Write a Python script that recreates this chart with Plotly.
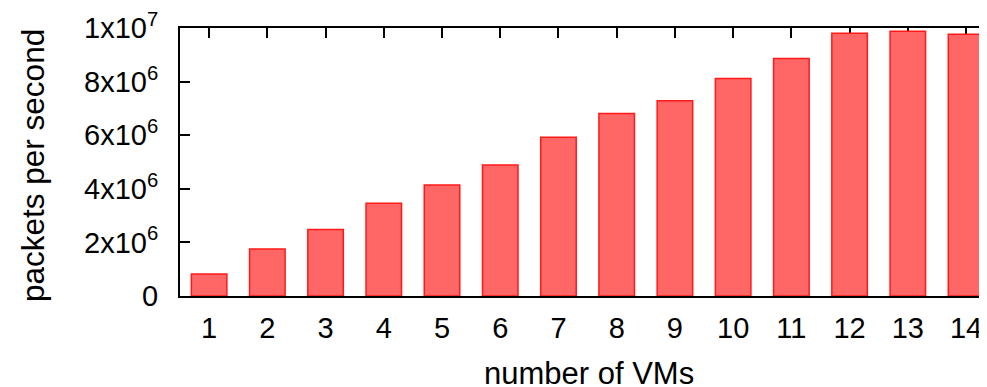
import plotly.graph_objects as go

vms = list(range(1, 15))
pps = [0.82e6, 1.75e6, 2.48e6, 3.46e6, 4.14e6, 4.89e6, 5.92e6, 6.81e6,
       7.29e6, 8.12e6, 8.86e6, 9.80e6, 9.88e6, 9.77e6]
ytick_vals = [0, 2e6, 4e6, 6e6, 8e6, 1e7]
ytick_text = ["0", "2x10<sup>6</sup>", "4x10<sup>6</sup>", "6x10<sup>6</sup>",
              "8x10<sup>6</sup>", "1x10<sup>7</sup>"]

FONT = "Liberation Sans, Arial, Helvetica, sans-serif"

# page body has an 8px margin; figure is sized to fill the rest of the window
OFF = 8
W, H = 987 - OFF, 387 - OFF
L, T, B_PIX = 180 - OFF, 28 - OFF, 296 - OFF

fig = go.Figure()
fig.add_trace(go.Bar(
    x=vms, y=pps, width=0.61,
    marker=dict(color="#FF6666", line=dict(color="#FF1A1A", width=1.5)),
))

fig.update_layout(
    width=W, height=H,
    margin=dict(l=L, r=0, t=T, b=H - B_PIX),
    paper_bgcolor="white", plot_bgcolor="white",
    showlegend=False,
    font=dict(family=FONT, size=29, color="black"),
    xaxis=dict(
        range=[0.5, 14.36], tickvals=vms, ticktext=[str(v) for v in vms],
        ticks="inside", ticklen=10, tickwidth=1.5, tickcolor="black",
        showline=True, linecolor="black", linewidth=2, mirror="ticks",
        showgrid=False, zeroline=False, layer="below traces",
        ticklabelstandoff=5, ticklabeloverflow="allow",
        tickfont=dict(size=29),
    ),
    yaxis=dict(
        range=[0, 1e7], tickvals=ytick_vals, ticktext=ytick_text,
        ticks="inside", ticklen=10, tickwidth=1.5, tickcolor="black",
        showline=True, linecolor="black", linewidth=2,
        showgrid=False, zeroline=False, layer="below traces",
        ticklabelstandoff=14, ticklabeloverflow="allow",
        tickfont=dict(size=29),
    ),
)

PW, PH = W - L, B_PIX - T
fig.add_annotation(text="number of VMs", xref="paper", yref="paper",
                   x=(589 - 180) / PW, y=(296 - 373) / PH,
                   xanchor="center", yanchor="middle", showarrow=False,
                   font=dict(size=31))
fig.add_annotation(text="packets per second", xref="paper", yref="paper",
                   x=(33 - 180) / PW, y=(296 - 166) / PH, textangle=-90,
                   xanchor="center", yanchor="middle", showarrow=False,
                   font=dict(size=31.5))

fig.write_html("out.html")
